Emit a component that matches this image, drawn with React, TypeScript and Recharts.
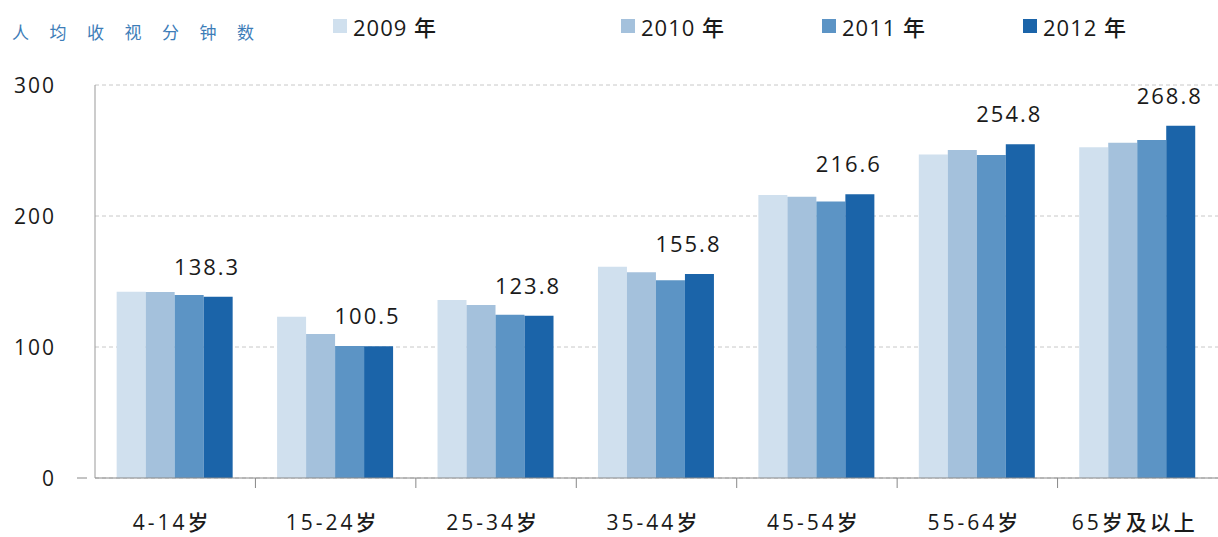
import { BarChart, Bar, XAxis, YAxis, CartesianGrid, Legend, LabelList } from 'recharts'

document.body.style.margin = '0'

const ageGroups = ['4-14岁', '15-24岁', '25-34岁', '35-44岁', '45-54岁', '55-64岁', '65岁及以上']
const minutes2009 = [142.2, 123.0, 135.9, 161.3, 216.0, 247.0, 252.4]
const minutes2010 = [142.0, 110.0, 132.0, 157.0, 214.7, 250.4, 256.0]
const minutes2011 = [139.7, 100.8, 124.7, 151.0, 211.0, 246.6, 258.0]
const minutes2012 = [138.3, 100.5, 123.8, 155.8, 216.6, 254.8, 268.8]
const yTicks = [0, 100, 200, 300]

const years = ['2009 年', '2010 年', '2011 年', '2012 年']
const colors = ['#d0e0ee', '#a4c1dc', '#5c94c5', '#1b64a9']

const W = 1218
const H = 537
const AXIS_W = 95
const LEGEND_H = 60
const BAND = (W - AXIS_W) / ageGroups.length
const FONT = "'Open Sans', 'Noto Sans CJK SC', sans-serif"
const CJK = "'Noto Sans CJK SC', sans-serif"

const data = ageGroups.map((g, i) => ({
  group: g,
  y2009: minutes2009[i],
  y2010: minutes2010[i],
  y2011: minutes2011[i],
  y2012: minutes2012[i],
}))

// legend item x positions along the top
const legendX = [333, 621, 822, 1023]

function LegendRow({ payload }: any) {
  return (
    <div style={{ position: 'relative', width: W, height: LEGEND_H }}>
      <div
        style={{
          position: 'absolute',
          left: 12,
          top: 19,
          fontFamily: CJK,
          fontSize: 17,
          letterSpacing: 20.5,
          color: '#3d7db8',
          whiteSpace: 'nowrap',
        }}
      >
        人均收视分钟数
      </div>
      {(payload || []).map((p: any, i: number) => (
        <div
          key={p.value}
          style={{ position: 'absolute', left: legendX[i], top: 10, display: 'flex', alignItems: 'center' }}
        >
          <span style={{ width: 14, height: 14, background: p.color, display: 'inline-block', marginRight: 6 }} />
          <span style={{ fontFamily: FONT, fontSize: 22, fontWeight: 500, color: '#1a1a1a', letterSpacing: 1 }}>
            {p.value}
          </span>
        </div>
      ))}
    </div>
  )
}

function XTick({ x, y, payload, index }: any) {
  return (
    <g>
      {index > 0 && <line x1={x - BAND / 2} x2={x - BAND / 2} y1={y - 8} y2={y + 2} stroke="#888" />}
      <text
        x={x - 3}
        y={y + 44}
        textAnchor="middle"
        fontFamily={FONT}
        fontSize={21}
        fontWeight={500}
        fill="#1a1a1a"
        letterSpacing={3}
      >
        {payload.value}
      </text>
    </g>
  )
}

function YTick({ x, y, payload }: any) {
  return (
    <g>
      {payload.value === 0 && <line x1={x - 10} x2={x} y1={y} y2={y} stroke="#888" />}
      <text
        x={x - 31}
        y={y + 8}
        textAnchor="end"
        fontFamily={FONT}
        fontSize={21}
        fontWeight={500}
        fill="#1a1a1a"
        letterSpacing={2}
      >
        {payload.value}
      </text>
    </g>
  )
}

function ValueLabel({ x, y, width, value }: any) {
  return (
    <text
      x={x + width / 2 - 11}
      y={y - 22}
      textAnchor="middle"
      fontFamily={FONT}
      fontSize={22}
      fontWeight={500}
      fill="#1a1a1a"
      letterSpacing={2}
    >
      {Number(value).toFixed(1)}
    </text>
  )
}

export default function App() {
  return (
    <div style={{ width: W, height: H, background: '#fff' }}>
      <BarChart
        width={W}
        height={H}
        data={data}
        margin={{ top: 85 - LEGEND_H, right: 0, bottom: 0, left: 0 }}
        barCategoryGap="13.5%"
        barGap={0}
      >
        <CartesianGrid vertical={false} stroke="#c8c8c8" strokeDasharray="4 3" />
        <XAxis
          dataKey="group"
          axisLine={{ stroke: '#888' }}
          tickLine={false}
          tick={<XTick />}
          interval={0}
          height={59}
        />
        <YAxis
          width={AXIS_W}
          domain={[0, 300]}
          ticks={yTicks}
          axisLine={{ stroke: '#999' }}
          tickLine={false}
          tick={<YTick />}
        />
        <Legend
          verticalAlign="top"
          height={LEGEND_H}
          content={<LegendRow />}
          wrapperStyle={{ top: 0, left: 0, width: W, height: LEGEND_H }}
        />
        <Bar dataKey="y2009" name={years[0]} fill={colors[0]} isAnimationActive={false} />
        <Bar dataKey="y2010" name={years[1]} fill={colors[1]} isAnimationActive={false} />
        <Bar dataKey="y2011" name={years[2]} fill={colors[2]} isAnimationActive={false} />
        <Bar dataKey="y2012" name={years[3]} fill={colors[3]} isAnimationActive={false}>
          <LabelList dataKey="y2012" content={<ValueLabel />} />
        </Bar>
      </BarChart>
    </div>
  )
}
